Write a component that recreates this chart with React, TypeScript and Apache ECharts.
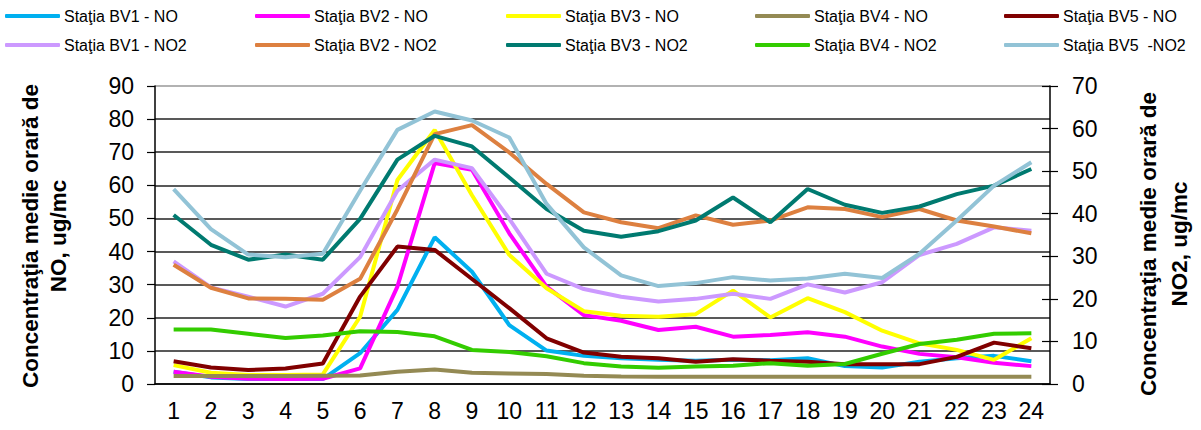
import React, { useEffect, useRef } from "react";
import * as echarts from "echarts";

const hours = ["1","2","3","4","5","6","7","8","9","10","11","12","13","14","15","16","17","18","19","20","21","22","23","24"];

const seriesNames = [
  "Staţia BV1 - NO", "Staţia BV2 - NO", "Staţia BV3 - NO", "Staţia BV4 - NO", "Staţia BV5 - NO",
  "Staţia BV1 - NO2", "Staţia BV2 - NO2", "Staţia BV3 - NO2", "Staţia BV4 - NO2", "Staţia BV5  -NO2",
];

const colors = ["#00B0F0", "#FF00FF", "#FFFF00", "#948A54", "#800000", "#CC99FF", "#DD8040", "#007A70", "#33CC00", "#92C3D6"];

const bv1NO = [3.7, 2.0, 1.5, 1.5, 1.5, 9.3, 22.4, 44.3, 33.9, 17.8, 10.1, 8.5, 7.8, 7.3, 7.0, 7.3, 7.2, 7.8, 5.4, 5.0, 6.7, 7.8, 8.5, 6.9];
const bv2NO = [3.7, 2.2, 1.6, 1.5, 1.6, 4.7, 29.4, 66.7, 64.7, 45.5, 29.4, 20.8, 19.1, 16.3, 17.3, 14.3, 14.8, 15.6, 14.3, 11.3, 9.1, 8.1, 6.4, 5.4];
const bv3NO = [5.7, 3.4, 2.7, 2.7, 2.9, 20.3, 61.6, 76.7, 57.0, 39.0, 28.9, 22.0, 20.6, 20.3, 21.1, 28.2, 20.1, 25.9, 21.7, 16.1, 12.3, 10.3, 7.3, 13.8];
const bv4NO = [2.4, 2.4, 2.4, 2.4, 2.5, 2.6, 3.7, 4.4, 3.4, 3.2, 3.0, 2.5, 2.3, 2.2, 2.2, 2.2, 2.2, 2.2, 2.2, 2.2, 2.2, 2.2, 2.2, 2.2];
const bv5NO = [6.9, 5.0, 4.2, 4.7, 6.2, 26.4, 41.5, 40.5, 31.7, 22.9, 13.8, 9.5, 8.2, 7.8, 6.7, 7.5, 7.0, 6.7, 6.0, 6.0, 6.0, 8.2, 12.5, 10.8];

const bv1NO2 = [28.8, 22.7, 20.5, 18.2, 21.2, 29.8, 45.4, 52.7, 50.7, 38.8, 25.9, 22.3, 20.5, 19.4, 20.0, 21.2, 20.0, 23.4, 21.5, 23.9, 30.3, 32.9, 36.8, 36.0];
const bv2NO2 = [28.0, 22.6, 20.1, 20.0, 19.8, 24.7, 41.0, 58.7, 60.8, 54.4, 47.0, 40.3, 38.0, 36.6, 39.6, 37.4, 38.4, 41.5, 41.1, 39.2, 41.1, 38.4, 37.0, 35.4];
const bv3NO2 = [39.7, 32.7, 29.2, 30.4, 29.2, 38.8, 52.7, 58.3, 55.8, 48.5, 41.1, 36.0, 34.6, 35.9, 38.4, 43.8, 38.0, 45.8, 42.1, 40.2, 41.7, 44.6, 46.6, 50.5];
const bv4NO2 = [12.8, 12.8, 11.8, 10.8, 11.4, 12.4, 12.2, 11.2, 8.0, 7.5, 6.5, 4.9, 4.1, 3.8, 4.1, 4.3, 4.9, 4.3, 4.7, 7.1, 9.4, 10.4, 11.8, 11.9];
const bv5NO2 = [45.8, 36.4, 30.4, 29.8, 30.6, 45.4, 59.7, 64.0, 61.9, 57.9, 42.3, 32.1, 25.5, 23.0, 23.7, 25.1, 24.3, 24.8, 25.9, 24.9, 30.6, 38.4, 46.6, 52.1];

const allData = [bv1NO, bv2NO, bv3NO, bv4NO, bv5NO, bv1NO2, bv2NO2, bv3NO2, bv4NO2, bv5NO2];

const leftTicks = [0, 90, 10];
const rightTicks = [0, 70, 10];

const FONT = "Liberation Sans, Arial, sans-serif";

export default function App() {
  const ref = useRef<HTMLDivElement>(null);
  useEffect(() => {
    document.body.style.margin = "0";
    if (!ref.current) return;
    const chart = echarts.init(ref.current, null, { renderer: "svg" });
    const colX = [5, 255, 506, 755, 1004];
    const rowY = [8, 37];
    const legends = seriesNames.map((n, i) => ({
      data: [n],
      left: colX[i % 5],
      top: rowY[Math.floor(i / 5)],
      padding: 0,
      icon: "roundRect",
      itemWidth: 55,
      itemHeight: 4,
      textStyle: { fontSize: 16, color: "#000", fontFamily: FONT, padding: [0, 0, 0, -1] },
      selectedMode: false,
    }));
    const gridColors = ["#222", "#222", "#222", "#222", "#222", "#222", "#222", "#222", "#222", "#999"];
    chart.setOption({
      animation: false,
      legend: legends,
      grid: { left: 155, right: 151, top: 86, bottom: 46, containLabel: false },
      xAxis: {
        type: "category",
        data: hours,
        boundaryGap: true,
        axisLine: { lineStyle: { color: "#000", width: 1.5 } },
        axisTick: { length: 8, interval: 0, lineStyle: { color: "#000", width: 1.2 } },
        axisLabel: { fontSize: 23, color: "#000", fontFamily: FONT, margin: 15, interval: 0 },
      },
      yAxis: [
        {
          type: "value",
          min: leftTicks[0],
          max: leftTicks[1],
          interval: leftTicks[2],
          position: "left",
          axisLine: { show: true, lineStyle: { color: "#000", width: 1.5 } },
          axisTick: { show: true, length: 8, lineStyle: { color: "#000", width: 1.2 } },
          axisLabel: { fontSize: 23, color: "#000", fontFamily: FONT, margin: 21 },
          splitLine: { show: true, lineStyle: { color: gridColors, width: 1.5 } },
        },
        {
          type: "value",
          min: rightTicks[0],
          max: rightTicks[1],
          interval: rightTicks[2],
          position: "right",
          axisLine: { show: true, lineStyle: { color: "#000", width: 1.5 } },
          axisTick: { show: true, length: 8, lineStyle: { color: "#000", width: 1.2 } },
          axisLabel: { fontSize: 23, color: "#000", fontFamily: FONT, margin: 22 },
          splitLine: { show: false },
        },
        {
          type: "value",
          min: rightTicks[0],
          max: rightTicks[1],
          interval: rightTicks[2],
          position: "right",
          axisLine: { show: false },
          axisTick: { show: true, inside: true, length: 8, lineStyle: { color: "#000", width: 1.2 } },
          axisLabel: { show: false },
          splitLine: { show: false },
        },
      ],
      series: allData.map((d, i) => ({
        name: seriesNames[i],
        type: "line",
        data: d,
        yAxisIndex: i < 5 ? 0 : 1,
        symbol: "none",
        smooth: false,
        color: colors[i],
        lineStyle: { width: 4, color: colors[i] },
        z: 2 + i,
      })),
      graphic: [
        {
          type: "text",
          x: 44,
          y: 236,
          rotation: Math.PI / 2,
          style: {
            text: "Concentraţia medie orară de\nNO, ug/mc",
            fontSize: 22.5,
            fontWeight: "bold",
            fontFamily: FONT,
            fill: "#000",
            align: "center",
            verticalAlign: "middle",
            lineHeight: 28,
          },
        },
        {
          type: "text",
          x: 1164,
          y: 244,
          rotation: Math.PI / 2,
          style: {
            text: "Concentraţia medie orară de\nNO2, ug/mc",
            fontSize: 22.5,
            fontWeight: "bold",
            fontFamily: FONT,
            fill: "#000",
            align: "center",
            verticalAlign: "middle",
            lineHeight: 31,
          },
        },
      ],
    });
    return () => chart.dispose();
  }, []);
  return <div ref={ref} style={{ width: 1201, height: 430 }} />;
}
